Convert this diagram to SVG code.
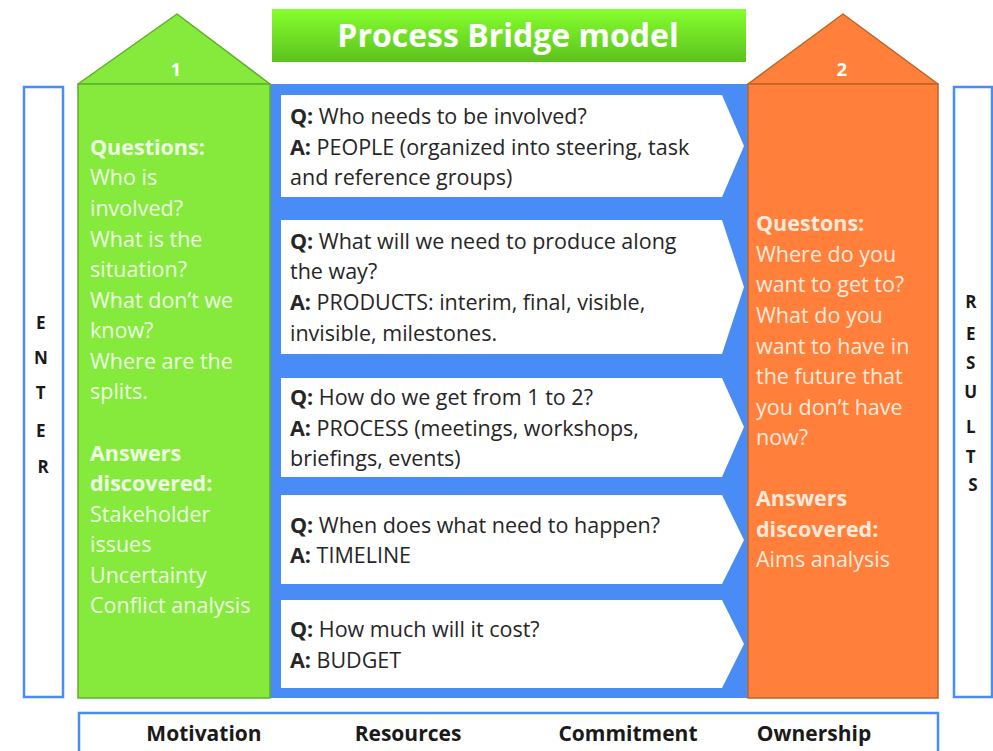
<svg xmlns="http://www.w3.org/2000/svg" width="993" height="751" viewBox="0 0 993 751">
  <defs>
    <linearGradient id="titleGrad" x1="0" y1="0" x2="0" y2="1">
      <stop offset="0" stop-color="#86FF2E"/>
      <stop offset="1" stop-color="#5CC21E"/>
    </linearGradient>
  </defs>
  <style>
    text { font-family: "Open Sans", "Liberation Sans", Arial, sans-serif; }
    .side { fill: #ffffff; stroke: #4A8CF5; stroke-width: 2.5; }
    .arrow { fill: #ffffff; }
    .qa { font-size: 21.5px; fill: #262626; }
    .green-txt { font-size: 21.5px; fill: #EEFDE4; }
    .orange-txt { font-size: 21.5px; fill: #FFEADB; }
    .b { font-weight: bold; }
    .letters { font-size: 17px; font-weight: bold; fill: #1a1a1a; text-anchor: middle; }
    .foot { font-size: 21px; font-weight: bold; fill: #1a1a1a; text-anchor: middle; }
    .num { font-size: 18px; font-weight: bold; fill: #ffffff; text-anchor: middle; }
  </style>

  <rect width="993" height="751" fill="#ffffff"/>

  <!-- title banner -->
  <g id="title">
    <rect x="272" y="9" width="474" height="53" fill="url(#titleGrad)"/>
    <text x="508" y="47" font-size="32" font-weight="bold" fill="#ffffff" text-anchor="middle">Process Bridge model</text>
  </g>

  <!-- ENTER column -->
  <g id="enter">
    <rect class="side" x="24" y="87" width="39" height="610"/>
    <text class="letters">
      <tspan x="43" y="329">E</tspan>
      <tspan x="43" y="364">N</tspan>
      <tspan x="43" y="399">T</tspan>
      <tspan x="43" y="437">E</tspan>
      <tspan x="43" y="473">R</tspan>
    </text>
  </g>

  <!-- RESULTS column -->
  <g id="results">
    <rect class="side" x="954" y="87" width="38" height="610"/>
    <text class="letters">
      <tspan x="973" y="308">R</tspan>
      <tspan x="973" y="340">E</tspan>
      <tspan x="973" y="369">S</tspan>
      <tspan x="973" y="398">U</tspan>
      <tspan x="973" y="433">L</tspan>
      <tspan x="973" y="463">T</tspan>
      <tspan x="973" y="491">S</tspan>
    </text>
  </g>

  <!-- the bridge: blue deck with the five steps -->
  <g id="bridge">
    <rect x="270" y="84" width="478" height="614" fill="#4A8CF5"/>
  </g>

  <g id="connectors">
    <polygon class="arrow" points="281,95 722,95 744,146 722,197 281,197"/>
    <polygon class="arrow" points="281,220 722,220 744,287 722,354 281,354"/>
    <polygon class="arrow" points="281,378 722,378 744,427 722,477 281,477"/>
    <polygon class="arrow" points="281,495 722,495 744,540 722,584 281,584"/>
    <polygon class="arrow" points="281,600 722,600 744,644 722,688 281,688"/>
  </g>

  <g id="step-people">
    <text class="qa" x="290" y="124"><tspan class="b">Q:</tspan> Who needs to be involved?</text>
    <text class="qa" x="290" y="155"><tspan class="b">A:</tspan> PEOPLE (organized into steering, task</text>
    <text class="qa" x="290" y="185">and reference groups)</text>
  </g>
  <g id="step-products">
    <text class="qa" x="290" y="249"><tspan class="b">Q:</tspan> What will we need to produce along</text>
    <text class="qa" x="290" y="279">the way?</text>
    <text class="qa" x="290" y="310"><tspan class="b">A:</tspan> PRODUCTS: interim, final, visible,</text>
    <text class="qa" x="290" y="341">invisible, milestones.</text>
  </g>
  <g id="step-process">
    <text class="qa" x="290" y="405"><tspan class="b">Q:</tspan> How do we get from 1 to 2?</text>
    <text class="qa" x="290" y="436"><tspan class="b">A:</tspan> PROCESS (meetings, workshops,</text>
    <text class="qa" x="290" y="466">briefings, events)</text>
  </g>
  <g id="step-timeline">
    <text class="qa" x="290" y="533"><tspan class="b">Q:</tspan> When does what need to happen?</text>
    <text class="qa" x="290" y="563"><tspan class="b">A:</tspan> TIMELINE</text>
  </g>
  <g id="step-budget">
    <text class="qa" x="290" y="637"><tspan class="b">Q:</tspan> How much will it cost?</text>
    <text class="qa" x="290" y="668"><tspan class="b">A:</tspan> BUDGET</text>
  </g>

  <!-- pillar 1 (green house) -->
  <g id="pillar-1">
    <polygon points="78,84 177,14 270,84" fill="#85EA3C" stroke="#5FAE2A" stroke-width="1.5" stroke-linejoin="round"/>
    <rect x="78" y="84" width="192" height="614" fill="#85EA3C" stroke="#5FAE2A" stroke-width="1.5"/>
    <text class="num" x="176" y="76">1</text>
    <text class="green-txt">
      <tspan x="90" y="155" class="b">Questions:</tspan>
      <tspan x="90" y="185">Who is</tspan>
      <tspan x="90" y="216">involved?</tspan>
      <tspan x="90" y="247">What is the</tspan>
      <tspan x="90" y="277">situation?</tspan>
      <tspan x="90" y="308">What don’t we</tspan>
      <tspan x="90" y="338">know?</tspan>
      <tspan x="90" y="369">Where are the</tspan>
      <tspan x="90" y="399">splits.</tspan>
      <tspan x="90" y="461" class="b">Answers</tspan>
      <tspan x="90" y="491" class="b">discovered:</tspan>
      <tspan x="90" y="522">Stakeholder</tspan>
      <tspan x="90" y="552">issues</tspan>
      <tspan x="90" y="583">Uncertainty</tspan>
      <tspan x="90" y="613">Conflict analysis</tspan>
    </text>
  </g>

  <!-- pillar 2 (orange house) -->
  <g id="pillar-2">
    <polygon points="748,84 843,14 938,84" fill="#FF7F3B" stroke="#B8662A" stroke-width="1.5" stroke-linejoin="round"/>
    <rect x="748" y="84" width="190" height="614" fill="#FF7F3B" stroke="#B8662A" stroke-width="1.5"/>
    <text class="num" x="842" y="76">2</text>
    <text class="orange-txt">
      <tspan x="756" y="231" class="b">Questons:</tspan>
      <tspan x="756" y="262">Where do you</tspan>
      <tspan x="756" y="292">want to get to?</tspan>
      <tspan x="756" y="323">What do you</tspan>
      <tspan x="756" y="354">want to have in</tspan>
      <tspan x="756" y="384">the future that</tspan>
      <tspan x="756" y="415">you don’t have</tspan>
      <tspan x="756" y="445">now?</tspan>
      <tspan x="756" y="506" class="b">Answers</tspan>
      <tspan x="756" y="537" class="b">discovered:</tspan>
      <tspan x="756" y="567">Aims analysis</tspan>
    </text>
  </g>

  <!-- foundation row -->
  <g id="foundation">
    <rect class="side" x="79" y="713" width="859" height="50"/>
    <text class="foot" x="204" y="741">Motivation</text>
    <text class="foot" x="408" y="741">Resources</text>
    <text class="foot" x="628" y="741">Commitment</text>
    <text class="foot" x="814" y="741">Ownership</text>
  </g>
</svg>
